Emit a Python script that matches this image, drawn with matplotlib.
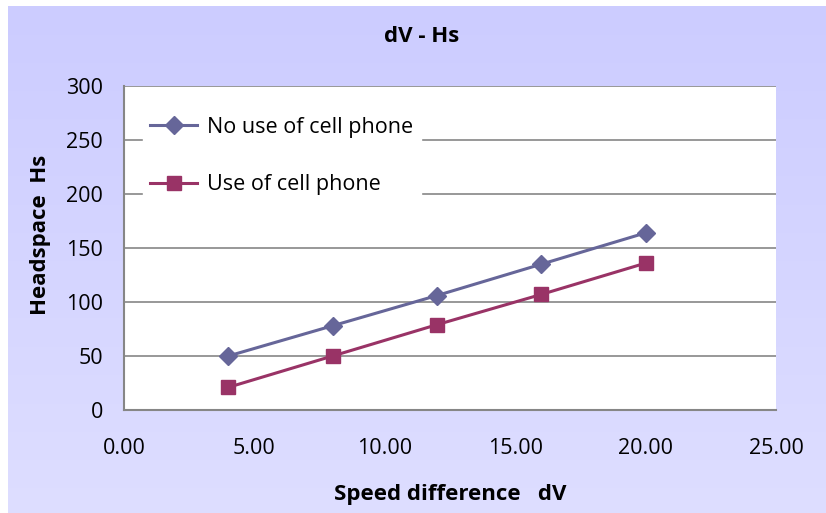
import numpy as np
import matplotlib
matplotlib.use("Agg")
import matplotlib.pyplot as plt

plt.rcParams['font.family'] = ['Open Sans', 'DejaVu Sans']

speed_diff = [4, 8, 12, 16, 20]
no_phone = [50, 78, 106, 135, 164]
with_phone = [21, 50, 79, 107, 136]
x_ticks = [0, 5, 10, 15, 20, 25]
y_ticks = [0, 50, 100, 150, 200, 250, 300]

fig = plt.figure(figsize=(8.26, 5.13), dpi=100)
fig.patch.set_facecolor('white')

# lavender gradient background of the chart area
bg = fig.add_axes([8 / 826, -0.01, 1, 1.01 - 6 / 513])
bg.set_axis_off()
top_c = np.array([204, 204, 255]) / 255
bot_c = np.array([222, 222, 255]) / 255
t = np.linspace(0, 1, 256)[:, None]
grad = top_c * (1 - t) + bot_c * t
bg.imshow(grad[:, None, :], aspect='auto', extent=[0, 1, 0, 1])
bg.set_xlim(0, 1)
bg.set_ylim(0, 1)

ax = fig.add_axes([124 / 826, 1 - 410 / 513, (776 - 124) / 826, (410 - 86) / 513])
ax.set_facecolor('white')

ax.plot(speed_diff, no_phone, color='#666699', lw=2.2, marker='D', ms=9,
        label='No use of cell phone', zorder=3)
ax.plot(speed_diff, with_phone, color='#993366', lw=2.2, marker='s', ms=10.5,
        label='Use of cell phone', zorder=3)

ax.set_xlim(0, 25)
ax.set_ylim(0, 300)
ax.set_xticks(x_ticks)
ax.set_xticklabels([f'{v:.2f}' for v in x_ticks])
ax.set_yticks(y_ticks)
ax.tick_params(length=0, labelsize=15.5, colors='black')
ax.tick_params(axis='y', pad=15)
ax.tick_params(axis='x', pad=20)

ax.grid(axis='y', color='#868686', lw=1.2, zorder=0)
ax.set_axisbelow(True)
for s in ['top', 'right']:
    ax.spines[s].set_visible(False)
for s in ['left', 'bottom']:
    ax.spines[s].set_color('#868686')
    ax.spines[s].set_linewidth(1.5)

ax.set_xlabel('Speed difference   dV', fontsize=16, fontweight='bold', labelpad=18)
ax.set_ylabel('Headspace  Hs', fontsize=16, fontweight='bold')
ax.yaxis.set_label_coords(-0.112, 0.54)

fig.text(422 / 826, 1 - 37 / 513, 'dV - Hs', fontsize=16, fontweight='bold',
         ha='center', va='center')

leg = ax.legend(loc='upper left', bbox_to_anchor=(0.012, 0.962), fontsize=15.5,
                frameon=True, fancybox=False, labelspacing=1.7, handlelength=2.2,
                borderpad=0.35, handletextpad=0.45)
leg.get_frame().set_edgecolor('white')
leg.get_frame().set_facecolor('white')
leg.get_frame().set_alpha(1)

fig.savefig('out.png', dpi=100)
